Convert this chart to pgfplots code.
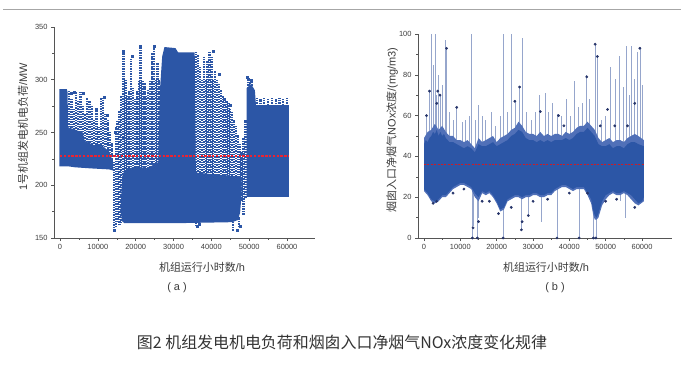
\documentclass[border=0pt]{standalone}
\usepackage{fontspec}
\setmainfont{Liberation Sans}
\newfontfamily\cjk{Noto Sans CJK SC}
\usepackage{pgfplots}
\pgfplotsset{compat=1.18}
\definecolor{ablue}{RGB}{44,86,166}
\definecolor{fringe}{RGB}{80,112,184}
\definecolor{spike}{RGB}{150,166,204}
\definecolor{navy}{RGB}{38,52,105}
\definecolor{meanred}{RGB}{235,35,50}
\definecolor{axgray}{RGB}{85,85,85}
\definecolor{labgray}{RGB}{60,60,60}
\pgfplotsset{
  myax/.style={
    scale only axis, axis lines=left,
    axis line style={-, draw=axgray, line width=0.6bp},
    tick style={draw=axgray, line width=0.5bp},
    tick align=outside, major tick length=3bp, minor tick length=1.8bp,
    minor x tick num=1, minor y tick num=1,
    xtick={0,10000,...,60000}, scaled x ticks=false,
    /pgf/number format/1000 sep={},
    /pgf/number format/assume math mode=true,
    tick label style={font=\fontsize{7.5}{9}\selectfont, text=labgray},
    label style={font=\fontsize{11}{13}\selectfont, text=labgray},
    clip mode=individual, unbounded coords=jump,
  },
  cols/.style={draw=ablue, line width=2.3bp, dash pattern=on 1.6bp off 0.9bp},
}
\begin{document}
\begin{tikzpicture}[x=1bp,y=1bp]
\path[use as bounding box] (0,0) rectangle (684,364);
\draw[gray!70, line width=0.8bp] (3,355) -- (681,355);
% ---------------- (a) ----------------
\begin{axis}[myax, at={(54bp,126bp)}, anchor=south west,
  width=261bp, height=211bp,
  xmin=-1600, xmax=67400, ymin=150, ymax=350,
  ytick={150,200,...,350},
  xlabel={{\cjk 机组运行小时数}/h},
  ylabel={1{\cjk 号机组发电机电负荷}/MW},
  xlabel style={at={(axis description cs:0.567,-0.137)}, anchor=center},
  ylabel style={at={(axis description cs:-0.119,0.526)}, anchor=center},
]
% dense cores
\addplot[fill=ablue, draw=none] coordinates {
 (-200,218)(-200,291)(1800,291)(2000,288)(2100,255)(6000,250)(6500,242)(9000,238)(11000,238)(13000,232)(14000,222)
 (14000,214)(13000,215)(8000,216)(4000,217)(2000,218)} -- cycle;
\addplot[fill=ablue, draw=none] coordinates {
 (16000,175)(16400,208)(17000,214)(20000,218)(23000,216)(26000,222)(26400,290)(27000,322)(27600,331)(30500,330)(31200,326)(35600,326)(35900,212)(48000,208)
 (48000,192)(47600,174)(47000,167)(45500,165)(30000,164)(20000,164)(17000,164)(16400,166)} -- cycle;
\addplot[fill=ablue, draw=none] coordinates {
 (49300,189)(49300,292)(50500,296)(51500,290)(51800,276)(60500,276)(60500,189)} -- cycle;
% speckled columns (ranges of scattered values)
\addplot[cols] coordinates {
 (2400,236)(2400,290)(2400,nan) (3000,238)(3000,282)(3000,nan) (3600,236)(3600,272)(3600,nan)
 (4200,237)(4200,288)(4200,nan) (4800,236)(4800,280)(4800,nan) (5400,238)(5400,288)(5400,nan)
 (6000,236)(6000,276)(6000,nan) (6600,237)(6600,268)(6600,nan) (7200,236)(7200,283)(7200,nan)
 (7800,238)(7800,280)(7800,nan) (8400,236)(8400,276)(8400,nan) (9000,237)(9000,262)(9000,nan)
 (9600,236)(9600,270)(9600,nan) (10200,238)(10200,255)(10200,nan) (10800,236)(10800,283)(10800,nan)
 (11400,237)(11400,283)(11400,nan) (12000,236)(12000,268)(12000,nan) (12600,230)(12600,262)(12600,nan)
 (13200,228)(13200,250)(13200,nan) (13700,222)(13700,240)(13700,nan)
 (14200,157)(14200,222)(14200,nan) (14700,160)(14700,255)(14700,nan) (15200,165)(15200,262)(15200,nan)
 (15700,162)(15700,270)(15700,nan) (16100,164)(16100,285)(16100,nan)
 (16800,210)(16800,327)(16800,nan) (17300,211)(17300,300)(17300,nan) (17800,210)(17800,285)(17800,nan)
 (18300,212)(18300,290)(18300,nan) (18800,210)(18800,320)(18800,nan) (19300,211)(19300,292)(19300,nan)
 (19800,210)(19800,282)(19800,nan) (20300,212)(20300,290)(20300,nan) (20800,210)(20800,300)(20800,nan)
 (21300,211)(21300,331)(21300,nan) (21800,210)(21800,300)(21800,nan) (22300,212)(22300,297)(22300,nan)
 (22800,210)(22800,285)(22800,nan) (23300,211)(23300,290)(23300,nan) (23800,210)(23800,300)(23800,nan)
 (24300,212)(24300,325)(24300,nan) (24800,210)(24800,331)(24800,nan) (25300,211)(25300,300)(25300,nan)
 (25800,210)(25800,316)(25800,nan) (26200,212)(26200,300)(26200,nan)
 (36000,200)(36000,326)(36000,nan) (36500,201)(36500,324)(36500,nan) (37000,200)(37000,312)(37000,nan)
 (37500,202)(37500,300)(37500,nan) (38000,200)(38000,322)(38000,nan) (38500,201)(38500,300)(38500,nan)
 (39000,200)(39000,318)(39000,nan) (39500,202)(39500,326)(39500,nan) (40000,200)(40000,322)(40000,nan)
 (40500,201)(40500,300)(40500,nan) (41000,200)(41000,308)(41000,nan) (41500,202)(41500,300)(41500,nan)
 (42000,200)(42000,296)(42000,nan) (42500,201)(42500,290)(42500,nan) (43000,200)(43000,285)(43000,nan)
 (43500,202)(43500,283)(43500,nan) (44000,200)(44000,280)(44000,nan) (44500,201)(44500,278)(44500,nan)
 (45000,200)(45000,272)(45000,nan) (45500,202)(45500,270)(45500,nan) (46000,200)(46000,262)(46000,nan)
 (46500,201)(46500,256)(46500,nan) (47000,200)(47000,248)(47000,nan) (47500,200)(47500,240)(47500,nan)
 (48000,185)(48000,232)(48000,nan) (48500,172)(48500,245)(48500,nan) (49000,188)(49000,262)(49000,nan)
 (45800,157)(45800,166)(45800,nan) (47400,160)(47400,170)(47400,nan) (36000,161)(36000,166)(36000,nan)
 (49800,280)(49800,302)(49800,nan) (50300,282)(50300,300)(50300,nan) (50800,280)(50800,298)(50800,nan)
 (52000,270)(52000,283)(52000,nan) (53000,272)(53000,282)(53000,nan) (54000,270)(54000,283)(54000,nan)
 (55000,271)(55000,282)(55000,nan) (56000,270)(56000,283)(56000,nan) (57000,272)(57000,282)(57000,nan)
 (58000,270)(58000,283)(58000,nan) (59000,271)(59000,282)(59000,nan) (60000,270)(60000,283)(60000,nan)
};
% isolated points
\addplot[only marks, mark=square*, mark size=1bp, ablue] coordinates {
 (14200,157)(46900,157)(47700,161)(36200,161)(36800,163)(49600,302)(11800,283)(6200,287)
 (3800,288)(21300,332)(24800,332)(16800,327)(40500,327)(50500,300)(16600,246)(14700,250)
 (12500,266)(9500,272)(2900,287)(45000,276)(42000,305)(19000,322)};
% mean line
\addplot[color=meanred, solid, line width=1.7bp, dash pattern=on 2.4bp off 1.4bp, mark=none] coordinates {(0,228) (60500,228)};
\end{axis}
% ---------------- (b) ----------------
\begin{axis}[myax, at={(418bp,126bp)}, anchor=south west,
  width=254bp, height=204bp,
  xmin=-1650, xmax=68250, ymin=0, ymax=100,
  ytick={0,20,...,100},
  xlabel={{\cjk 机组运行小时数}/h},
  ylabel={{\cjk 烟囱入口净烟气}NOx{\cjk 浓度}/(mg/m3)},
  xlabel style={at={(axis description cs:0.504,-0.142)}, anchor=center},
  ylabel style={at={(axis description cs:-0.102,0.53)}, anchor=center},
]
% spikes
\addplot[spike, line width=0.65bp] coordinates {
 (700,42)(700,60)(700,nan) (1500,42)(1500,72)(1500,nan) (2100,42)(2100,100)(2100,nan)
 (2600,42)(2600,85)(2600,nan) (3000,42)(3000,100)(3000,nan) (3500,42)(3500,70)(3500,nan)
 (4000,42)(4000,80)(4000,nan) (4400,42)(4400,70)(4400,nan) (5000,42)(5000,75)(5000,nan)
 (5800,42)(5800,97)(5800,nan) (6200,42)(6200,93)(6200,nan) (7000,42)(7000,62)(7000,nan)
 (8200,42)(8200,58)(8200,nan) (9000,42)(9000,64)(9000,nan) (10500,42)(10500,57)(10500,nan)
 (11500,42)(11500,58)(11500,nan) (12500,42)(12500,60)(12500,nan) (13100,42)(13100,100)(13100,nan)
 (14000,42)(14000,58)(14000,nan) (15000,42)(15000,65)(15000,nan) (16000,42)(16000,60)(16000,nan)
 (17000,42)(17000,58)(17000,nan) (18500,42)(18500,62)(18500,nan) (19500,42)(19500,55)(19500,nan)
 (21000,42)(21000,60)(21000,nan) (21900,42)(21900,100)(21900,nan) (22800,42)(22800,62)(22800,nan)
 (24000,42)(24000,100)(24000,nan) (25000,42)(25000,67)(25000,nan) (26300,42)(26300,74)(26300,nan)
 (27000,42)(27000,98)(27000,nan) (28200,42)(28200,62)(28200,nan) (29500,42)(29500,58)(29500,nan)
 (30500,42)(30500,62)(30500,nan) (31800,42)(31800,70)(31800,nan) (33300,42)(33300,71)(33300,nan)
 (34200,42)(34200,62)(34200,nan) (35200,42)(35200,66)(35200,nan) (36700,42)(36700,61)(36700,nan)
 (37800,42)(37800,60)(37800,nan) (39100,42)(39100,68)(39100,nan) (40300,42)(40300,60)(40300,nan)
 (41500,42)(41500,77)(41500,nan) (42500,42)(42500,64)(42500,nan) (43500,42)(43500,66)(43500,nan)
 (44800,42)(44800,80)(44800,nan) (45600,42)(45600,68)(45600,nan) (47100,42)(47100,95)(47100,nan)
 (47700,42)(47700,89)(47700,nan) (48800,42)(48800,58)(48800,nan) (49800,42)(49800,60)(49800,nan)
 (51200,42)(51200,84)(51200,nan) (52600,42)(52600,78)(52600,nan) (53700,42)(53700,89)(53700,nan)
 (54800,42)(54800,74)(54800,nan) (55800,42)(55800,94)(55800,nan) (56600,42)(56600,70)(56600,nan)
 (57000,42)(57000,94)(57000,nan) (57800,42)(57800,78)(57800,nan) (58700,42)(58700,91)(58700,nan)
 (59400,42)(59400,93)(59400,nan) (60000,42)(60000,75)(60000,nan)
 (13300,25)(13300,0)(13300,nan) (13700,25)(13700,6)(13700,nan) (14600,25)(14600,0)(14600,nan)
 (15000,25)(15000,10)(15000,nan) (21800,25)(21800,0)(21800,nan) (26800,25)(26800,4)(26800,nan)
 (28700,25)(28700,11)(28700,nan) (32400,25)(32400,8)(32400,nan) (36600,25)(36600,0)(36600,nan)
 (42700,25)(42700,0)(42700,nan) (46600,20)(46600,0)(46600,nan) (47300,20)(47300,0)(47300,nan)
 (55500,25)(55500,10)(55500,nan) (54000,25)(54000,18)(54000,nan)
};
% ragged fringe of the band
\addplot[fill=fringe, draw=none] coordinates {
 (0,49)(1000,52)(2000,53)(3000,56)(4000,53)(5000,55)(6000,52)(7000,50)(8000,50)(9000,48)(10000,48)
 (11000,47)(12000,48)(13000,46)(14000,44)(15000,49)(16000,47)(17000,48)(18000,49)(19000,50)(20000,47)
 (21000,49)(22000,50)(23000,51)(24000,53)(25000,54)(26000,57)(27000,55)(28000,52)(29000,51)(30000,51)
 (31000,50)(32000,52)(33000,50)(34000,51)(35000,50)(36000,51)(37000,51)(38000,50)(39000,52)(40000,51)
 (41000,52)(42000,54)(43000,55)(44000,55)(45000,57)(46000,55)(47000,53)(48000,49)(49000,47)(50000,48)
 (51000,49)(52000,47)(53000,48)(54000,48)(55000,47)(56000,49)(57000,50)(58000,51)(59000,50)(60500,48)
 (60500,18)(59000,16)(58000,17)(57000,19)(56000,21)(55000,22)(54000,21)(53000,21)(52000,22)(51000,21)
 (50000,19)(49000,16)(48500,13)(48000,10)(47500,9)(47000,9)(46500,12)(46000,17)(45000,21)(44000,24)
 (43000,24)(42000,24)(41000,23)(40000,24)(39000,25)(38000,25)(37000,24)(36000,23)(35000,21)(34000,21)
 (33000,20)(32000,20)(31000,21)(30000,21)(29000,20)(28000,20)(27000,19)(26000,20)(25000,20)(24000,19)
 (23000,18)(22000,14)(21000,13)(20000,17)(19000,20)(18000,22)(17000,21)(16000,22)(15000,18)(14000,20)
 (13000,24)(12000,25)(11000,26)(10000,26)(9000,25)(8000,24)(7000,22)(6000,20)(5000,20)(4000,18)
 (3000,17)(2000,18)(1000,21)(0,23)} -- cycle;
% dense core of the band
\addplot[fill=ablue, draw=none] coordinates {
 (0,46)(500,48)(1000,47)(1500,49)(2000,50)(2500,52)(3000,51)(3500,53)(4000,50)(4500,52)(5000,50)
 (5500,51)(6000,49)(7000,47)(8000,47)(9000,46)(10000,45)(11000,44)(12000,45)(13000,44)(14000,42)
 (15000,46)(16000,45)(17000,45)(18000,46)(19000,47)(20000,45)(21000,46)(22000,47)(23000,48)(24000,50)
 (25000,51)(26000,53)(27000,52)(28000,49)(29000,48)(30000,48)(31000,47)(32000,48)(33000,47)(34000,48)
 (35000,47)(36000,48)(37000,48)(38000,48)(39000,49)(40000,48)(41000,49)(42000,51)(43000,52)(44000,52)
 (45000,54)(46000,52)(47000,50)(48000,46)(49000,45)(50000,45)(51000,46)(52000,44)(53000,45)(54000,45)
 (55000,44)(56000,46)(57000,47)(58000,47)(59000,46)(60500,45)
 (60500,20)(60000,18)(59000,17)(58000,19)(57000,21)(56000,22)(55000,23)(54000,22)(53000,22)(52000,23)
 (51000,22)(50000,21)(49000,18)(48500,15)(48000,12)(47500,10)(47000,11)(46500,14)(46000,19)(45000,22)
 (44000,25)(43000,25)(42000,25)(41000,24)(40000,25)(39000,26)(38000,26)(37000,25)(36000,24)(35000,22)
 (34000,22)(33000,21)(32000,21)(31000,22)(30000,22)(29000,21)(28000,21)(27000,20)(26000,21)(25000,21)
 (24000,20)(23000,19)(22000,15)(21000,14)(20000,18)(19000,21)(18000,23)(17000,22)(16000,23)(15000,20)
 (14000,22)(13000,25)(12000,26)(11000,27)(10000,27)(9000,26)(8000,25)(7000,23)(6000,21)(5000,21)
 (4000,19)(3000,18)(2000,19)(1000,22)(0,24)} -- cycle;
% marked readings
\addplot[only marks, mark=*, mark size=1.2bp, navy] coordinates {
 (700,60)(1500,72)(4400,70)(3800,72)(6200,93)(3500,66)(9000,64)(13300,0)(13500,5)(14700,0)(15000,8)
 (21800,0)(26800,4)(26300,74)(25000,67)(28700,11)(44800,79)(47100,95)(47700,89)(47300,0)(46600,0)
 (42700,0)(50500,63)(52500,55)(58000,66)(59400,93)(56000,55)(48500,55)(37000,60)(38500,55)(32000,62)
 (16000,18)(20500,12)(2500,17)(3500,18)(8000,22)(11000,24)(18000,18)(24000,15)(30000,18)(34000,19)
 (40000,22)(45000,22)(50000,18)(53000,19)(58000,15)(27000,8)(36600,0)};
\addplot[color=meanred!85!black, solid, line width=1.2bp, dash pattern=on 2bp off 1.4bp, mark=none] coordinates {(0,36) (60500,36)};
\end{axis}
% panel labels and caption
\node[font=\fontsize{11}{13}\selectfont, text=labgray] at (177,76) {( a )};
\node[font=\fontsize{11}{13}\selectfont, text=labgray] at (555,76) {( b )};
\node[font=\cjk\fontsize{16}{19}\selectfont, text=black!80] at (342,22) {图2 机组发电机电负荷和烟囱入口净烟气NOx浓度变化规律};
\end{tikzpicture}
\end{document}
